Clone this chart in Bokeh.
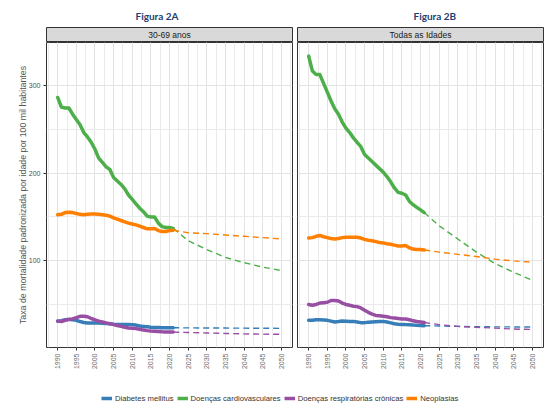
import math

from bokeh.embed import file_html
from bokeh.layouts import column, row
from bokeh.models import FixedTicker, Label, Legend, LegendItem, Range1d, SingleIntervalTicker
from bokeh.plotting import figure
from bokeh.resources import INLINE

# ---- data -------------------------------------------------------------
years = list(range(1990, 2022))
proj_years = [2021, 2025, 2030, 2035, 2040, 2045, 2050]

causes = ["Diabetes mellitus", "Doenças cardiovasculares",
          "Doenças respiratórias crônicas", "Neoplasias"]
colors = ["#377EB8", "#4DAF4A", "#984EA3", "#FF7F00"]

# Figura 2A: 30-69 anos
a_diabetes = [31.5, 32, 33, 33.5, 33, 32.5, 31, 30, 29.5, 29.5, 29.5, 29.3, 29, 28.7, 28.5, 28,
              27.8, 27.7, 27.7, 27.6, 27.5, 27, 26, 25.5, 25, 24.5, 24.3, 24.2, 24, 24, 24, 24]
a_cardio = [286, 275, 274, 274, 267, 261, 255, 246, 241, 235, 227, 217, 212, 207, 204, 195,
            191, 187, 182, 175, 170, 165, 160, 156, 151, 150, 150, 143, 139, 138, 138, 137]
a_resp = [31.5, 31, 32.5, 33.5, 34, 35.5, 37, 37, 36.5, 34.5, 33, 31.5, 30.5, 29.5, 28.6, 27.5,
          26.5, 25.5, 24.5, 23.8, 23.3, 23, 22.2, 21.3, 20.7, 20.2, 20, 19.7, 19.3, 19, 19, 19]
a_neo = [152.5, 153, 155, 155.5, 155, 154, 153, 152.5, 153, 153.5, 153.5, 153, 152.5, 152, 151, 149,
         147.5, 146, 144.5, 143, 142, 141, 139.5, 138, 136.5, 136.5, 137, 134.5, 133.5, 133.5, 134.5, 135]

a_diabetes_proj = [24, 23.8, 23.7, 23.6, 23.5, 23.4, 23.3]
a_cardio_proj = [137, 123, 113, 104, 98, 93, 89]
a_resp_proj = [19, 18.6, 18, 17.5, 17, 16.7, 16.5]
a_neo_proj = [135, 132, 131, 129.5, 128, 126.5, 125]

# Figura 2B: todas as idades
b_diabetes = [32.4, 32.5, 33, 33, 32.8, 32.4, 31.5, 30.5, 31, 31.6, 31.5, 31.2, 31.2, 30.5, 29.8, 29.8,
              30.2, 30.5, 30.8, 31, 31.2, 30.5, 29.5, 28.5, 28, 27.8, 27.6, 27.5, 27, 26.7, 26.5, 26.3]
b_cardio = [333, 316, 312, 312, 302, 292, 282, 273, 267, 258, 251, 246, 240, 235, 230, 221,
            217, 213, 209, 205, 201, 196, 190, 183, 178, 177, 175, 168, 164, 161, 158, 155]
b_resp = [50.5, 49.5, 50.5, 52, 52.5, 53, 55, 55, 54.5, 52, 50.5, 49.5, 48.5, 48, 46.5, 44,
          41.5, 39.5, 38, 37.5, 37, 36.5, 35.5, 35, 34.5, 34, 34, 33, 32, 31, 30.5, 30]
b_neo = [126, 126.5, 128, 129, 127.5, 126.5, 125.5, 125, 125.5, 126.5, 127, 127, 127, 127, 126, 124.5,
         123.5, 123, 122, 121, 120.5, 119.5, 119, 118, 117, 117, 117.5, 115, 113.5, 113, 113, 112.5]

b_diabetes_proj = [26.3, 26, 25.5, 25.2, 25, 24.9, 24.8]
b_cardio_proj = [155, 140, 125, 110, 97, 87, 78]
b_resp_proj = [30, 27.5, 25.5, 24.5, 23.5, 22.5, 22]
b_neo_proj = [112.5, 110, 107.5, 105, 102, 100, 98.5]

y_ticks = [100, 200, 300]
y_minor = [50, 150, 250]

FONT = "Liberation Sans"
X_RANGE = (1987, 2053)
Y_RANGE = (1.5, 348.5)


def strip_fig(width, left, right, title, title_offset, label):
    s = figure(width=width, height=42, x_range=Range1d(*X_RANGE), y_range=Range1d(0, 1),
               x_axis_type=None, y_axis_type=None, toolbar_location=None,
               output_backend="svg", min_border_left=left, min_border_right=right,
               min_border_top=27, min_border_bottom=0)
    s.background_fill_color = "#D9D9D9"
    s.outline_line_color = "#333333"
    s.outline_line_width = 1
    s.title.text = title
    s.title.align = "left"
    s.title.offset = title_offset
    s.title.standoff = 12
    s.title.text_font = "Lato"
    s.title.text_font_style = "bold"
    s.title.text_font_size = "10px"
    s.title.text_color = "#1F3D6E"
    s.add_layout(Label(x=sum(X_RANGE) / 2, y=0.5, text=label, text_align="center",
                       text_baseline="middle", text_font=FONT, text_font_size="8.5px",
                       text_color="#1A1A1A"))
    return s


def panel_fig(width, left, right, show_y, series, projections):
    p = figure(width=width, height=348, x_range=Range1d(*X_RANGE), y_range=Range1d(*Y_RANGE),
               toolbar_location=None, output_backend="svg",
               min_border_left=left, min_border_right=right,
               min_border_top=0, min_border_bottom=43)
    p.background_fill_color = "white"
    p.outline_line_color = "#333333"
    p.outline_line_width = 1

    xt = SingleIntervalTicker(interval=5, num_minor_ticks=2)
    p.xaxis.ticker = xt
    p.xgrid.ticker = xt
    yt = FixedTicker(ticks=y_ticks, minor_ticks=y_minor)
    p.yaxis.ticker = yt
    p.ygrid.ticker = yt

    for g in (p.xgrid, p.ygrid):
        g.grid_line_color = "#E3E3E3"
        g.grid_line_width = 1
        g.minor_grid_line_color = "#EAEAEA"
        g.minor_grid_line_width = 1

    for ax in (p.xaxis, p.yaxis):
        ax.axis_line_color = None
        ax.major_tick_line_color = "#333333"
        ax.major_tick_in = 0
        ax.major_tick_out = 3
        ax.minor_tick_line_color = None
        ax.major_label_text_font = FONT
        ax.major_label_text_font_size = "7px"
        ax.major_label_standoff = 2

    p.xaxis.major_label_orientation = math.pi / 2
    p.xaxis.major_label_text_color = "#6E6E6E"
    p.yaxis.major_label_text_color = "#4D4D4D"

    if show_y:
        p.yaxis.axis_label = "Taxa de mortalidade padronizada por idade por 100 mil habitantes"
        p.yaxis.axis_label_text_font = FONT
        p.yaxis.axis_label_text_font_size = "8.8px"
        p.yaxis.axis_label_text_font_style = "normal"
        p.yaxis.axis_label_text_color = "#555555"
        p.yaxis.axis_label_standoff = -2
    else:
        p.yaxis.visible = False

    for vals, proj, color in zip(series, projections, colors):
        p.line(years, vals, line_color=color, line_width=3.5, line_join="round", line_cap="round")
        p.line(proj_years, proj, line_color=color, line_width=1.4, line_dash="6 4")
    return p


strip_a = strip_fig(294, 46, 2, "Figura 2A", 89, "30-69 anos")
panel_a = panel_fig(294, 46, 2, True,
                    [a_diabetes, a_cardio, a_resp, a_neo],
                    [a_diabetes_proj, a_cardio_proj, a_resp_proj, a_neo_proj])

strip_b = strip_fig(256, 3, 7, "Figura 2B", 116, "Todas as Idades")
panel_b = panel_fig(256, 3, 7, False,
                    [b_diabetes, b_cardio, b_resp, b_neo],
                    [b_diabetes_proj, b_cardio_proj, b_resp_proj, b_neo_proj])

# shared legend along the bottom; its lines sit outside the visible range,
# so only the legend keys show
leg = figure(width=550, height=18, x_range=Range1d(0, 1), y_range=Range1d(0, 1),
             x_axis_type=None, y_axis_type=None, toolbar_location=None,
             output_backend="svg", min_border=0)
leg.outline_line_color = None
items = []
for name, vals, color in zip(causes, [a_diabetes, a_cardio, a_resp, a_neo], colors):
    r = leg.line(years, vals, line_color=color, line_width=3.5)
    items.append(LegendItem(label=name, renderers=[r]))
legend = Legend(items=items, orientation="horizontal", location=(101, 5),
                glyph_width=11, glyph_height=10, label_standoff=3, spacing=3,
                padding=0, margin=0, border_line_color=None, background_fill_alpha=0,
                label_text_font=FONT, label_text_font_size="7.7px", label_text_color="#333333",
                label_height=10, label_width=10)
leg.add_layout(legend, "center")

layout = column(row(column(strip_a, panel_a), column(strip_b, panel_b)), leg)

open("out.html", "w").write(file_html(layout, INLINE))
